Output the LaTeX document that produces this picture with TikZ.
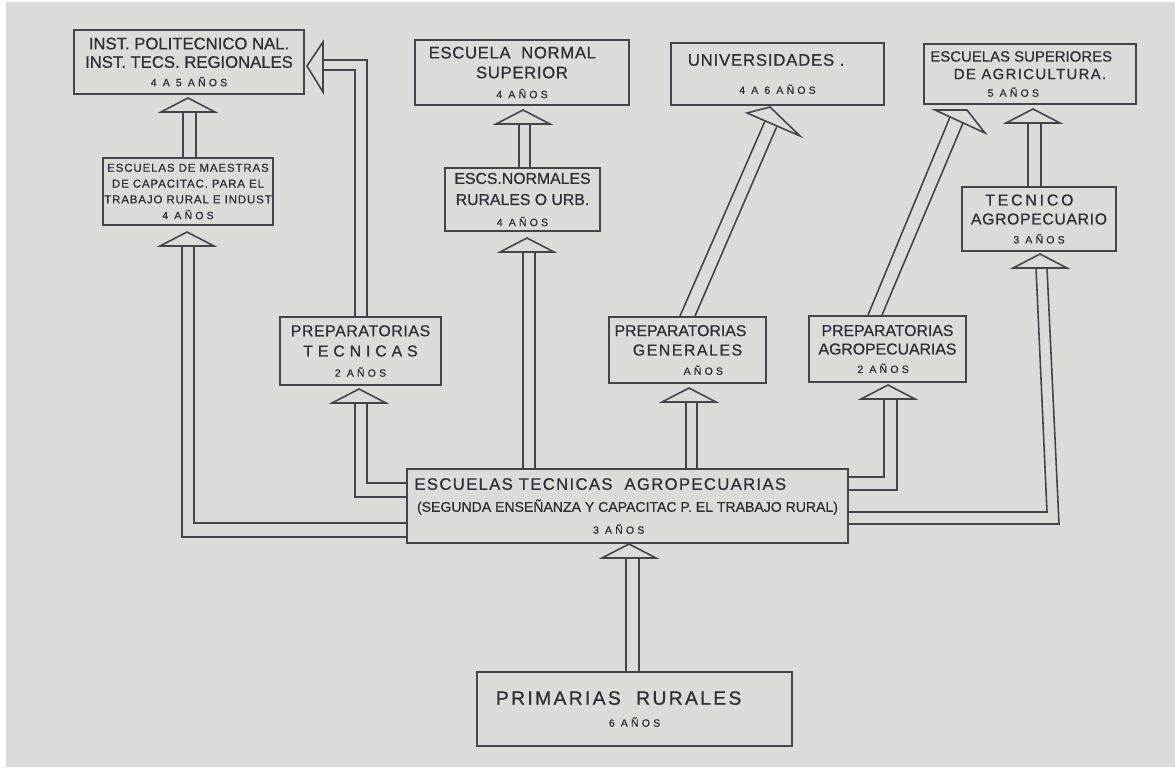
\documentclass[tikz,border=0pt]{standalone}
\usepackage{fontspec}
\setmainfont{Liberation Sans}[FakeBold=0.8]
\usetikzlibrary{calc}
\definecolor{PaperColor}{HTML}{DADCD8}
\definecolor{InkColor}{HTML}{30303C}
\definecolor{LineColor}{HTML}{44444F}
\newcommand{\HatHalf}{27}
\newcommand{\HatRise}{14}
\newcommand{\FS}[2]{\fontsize{#1}{#2}\selectfont}
\newcommand{\LS}[2]{{\addfontfeature{LetterSpace=#1}#2}}
\newcommand{\Yrs}[1]{{\fontsize{6}{7}\selectfont\addfontfeature{LetterSpace=30}#1}}
\newcommand{\Hat}[2]{%
  % #1 centre x, #2 base y
  \draw[hat] (#1-\HatHalf,#2) -- (#1,#2-\HatRise) -- (#1+\HatHalf,#2) -- cycle;
}
\newcommand{\UpArrow}[5]{%
  % #1 source node, #2 left x, #3 right x, #4 hat centre x, #5 hat base y
  \draw[shaft] (#2,#5) -- (#2,#5 |- #1.north) (#3,#5) -- (#3,#5 |- #1.north);
  \Hat{#4}{#5}
}

\begin{document}
\begin{tikzpicture}[
  x=0.02cm, y=-0.02cm,
  box/.style={draw=LineColor,line width=1.1pt,inner sep=0pt,align=center,text=InkColor},
  shaft/.style={draw=LineColor,line width=0.9pt},
  hat/.style={draw=LineColor,line width=0.9pt,fill=PaperColor,line join=miter}
]
\useasboundingbox (0,0) rectangle (1175,767);
\fill[white] (0,0) rectangle (1175,767);
\fill[PaperColor] (6,2) rectangle (1175,767);

% Boxes
\node[box,minimum width=4.6cm,minimum height=1.28cm,font=\FS{9.5}{10.5}] (inst) at (189,62)
  {INST. POLITECNICO NAL.\\INST. TECS. REGIONALES\\\Yrs{4 A 5 AÑOS}};
\node[box,minimum width=3.4cm,minimum height=1.34cm,font={\FS{6.5}{9}\addfontfeature{LetterSpace=8}}] (maestras) at (188,191.5)
  {ESCUELAS DE MAESTRAS\\DE CAPACITAC. PARA EL\\TRABAJO RURAL E INDUST\\\Yrs{4 AÑOS}};
\node[box,minimum width=4.28cm,minimum height=1.3cm,font={\FS{9.5}{11.3}\addfontfeature{LetterSpace=4}}] (normsup) at (522,72.5)
  {ESCUELA\ \ NORMAL\hspace*{11pt}\\SUPERIOR\hspace*{11pt}\\\Yrs{4 AÑOS}};
\node[box,minimum width=4.26cm,minimum height=1.24cm,font={\FS{9.5}{16}\addfontfeature{LetterSpace=5}}] (univ) at (777.5,74)
  {UNIVERSIDADES .\hspace*{13pt}\\\Yrs{4 A 6 AÑOS}};
\node[box,minimum width=4.24cm,minimum height=1.2cm,font=\FS{8.5}{10}] (escsup) at (1030,74)
  {ESCUELAS SUPERIORES\hspace*{10pt}\\\LS{9}{DE AGRICULTURA.}\hspace*{21pt}\\\Yrs{5 AÑOS}\hspace*{19pt}};
\node[box,minimum width=3.1cm,minimum height=1.26cm,font=\FS{9}{12}] (normrur) at (522.5,199.5)
  {ESCS.NORMALES\\RURALES O URB.\\\Yrs{4 AÑOS}};
\node[box,minimum width=3.08cm,minimum height=1.28cm,font=\FS{9}{10.8}] (tecagro) at (1039,219)
  {\LS{18}{TECNICO}\hspace*{11pt}\\\LS{4}{AGROPECUARIO}\\\Yrs{3 AÑOS}};
\node[box,minimum width=3.22cm,minimum height=1.36cm,font=\FS{9}{11.5}] (preptec) at (360.5,351)
  {\LS{4}{PREPARATORIAS}\\\LS{31}{TECNICAS}\\\Yrs{2 AÑOS}};
\node[box,minimum width=3.14cm,minimum height=1.32cm,font=\FS{9}{11}] (prepgen) at (687.5,350)
  {PREPARATORIAS\hspace*{8pt}\\\LS{10}{GENERALES}\hspace*{11pt}\\\hspace*{18pt}\Yrs{AÑOS}};
\node[box,minimum width=3.14cm,minimum height=1.32cm,font=\FS{9}{10.5}] (prepagro) at (887.5,349)
  {PREPARATORIAS\\AGROPECUARIAS\\\Yrs{2 AÑOS}\hspace*{5pt}};
\node[box,minimum width=8.82cm,minimum height=1.48cm,font=\FS{9.5}{12.5}] (esctec) at (627.5,506)
  {\LS{8}{ESCUELAS TECNICAS\ \ AGROPECUARIAS}\hspace*{31pt}\\{\FS{8}{12.5}(SEGUNDA ENSEÑANZA Y CAPACITAC P. EL TRABAJO RURAL)}\\\Yrs{3 AÑOS}\hspace*{10pt}};
\node[box,minimum width=6.3cm,minimum height=1.48cm,font={\FS{11}{12.5}\addfontfeature{LetterSpace=12}}] (primarias) at (634.5,709)
  {PRIMARIAS\ \ RURALES\hspace*{18pt}\\\Yrs{6 AÑOS}};

% Straight arrows
\UpArrow{maestras}{183}{196}{188}{112}
\UpArrow{normrur}{519}{530}{523}{124}
\UpArrow{tecagro}{1028}{1041}{1033}{123}
\UpArrow{esctec}{523}{535}{527}{252}
\UpArrow{esctec}{686}{697}{689}{402}
\UpArrow{primarias}{626}{639}{629}{558}

% Branches leaving the sides of the central box
\draw[shaft] (esctec.west |- 0,523) -- (194,523) -- (194,246)
             (esctec.west |- 0,537) -- (182,537) -- (182,246);
\Hat{187}{246}
\draw[shaft] (esctec.west |- 0,483) -- (367,483) -- (367,403)
             (esctec.west |- 0,497) -- (355,497) -- (355,403);
\Hat{359}{403}
\draw[shaft] (esctec.east |- 0,477) -- (884,477) -- (884,399)
             (esctec.east |- 0,490) -- (897,490) -- (897,399);
\Hat{888}{399}
\draw[shaft] (esctec.east |- 0,512) -- (1047,512) -- (1036,268)
             (esctec.east |- 0,524) -- (1059,524) -- (1047,268);
\Hat{1040}{268}

% Preparatorias tecnicas up to the politecnico
\draw[shaft] (355,0 |- preptec.north) -- (355,70) -- (323,70)
             (367,0 |- preptec.north) -- (367,60) -- (323,60);
\draw[hat] (323,42) -- (307,66) -- (323,92) -- cycle;

% Slanted arrows
\draw[shaft] (680,0 |- prepgen.north) -- (765,121)
             (695,0 |- prepgen.north) -- (777,126);
\draw[hat] (747,113) -- (770,107) -- (800,136) -- cycle;
\draw[shaft] (868,0 |- prepagro.north) -- (950,117)
             (882,0 |- prepagro.north) -- (963,123);
\draw[hat] (935,110) -- (967,110) -- (985,133) -- cycle;

\end{tikzpicture}
\end{document}
